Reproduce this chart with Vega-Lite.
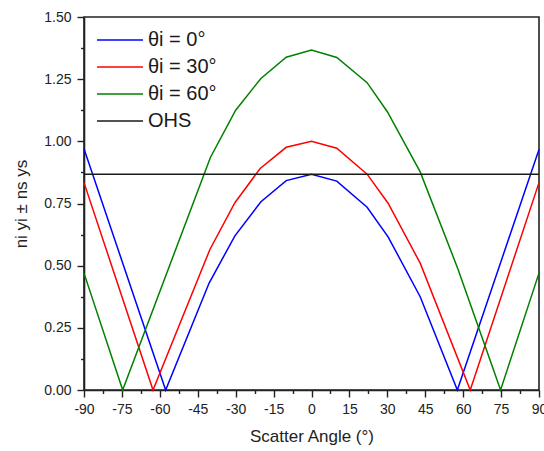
{
  "$schema": "https://vega.github.io/schema/vega-lite/v6.json",
  "width": 455,
  "height": 373,
  "autosize": {"type": "none"},
  "padding": {"left": 84, "top": 17, "right": 5, "bottom": 61},
  "background": "white",
  "config": {
    "view": {"stroke": "#222", "strokeWidth": 1.6},
    "font": "Liberation Sans",
    "axis": {
      "grid": false,
      "domainColor": "#222",
      "domainWidth": 1.6,
      "tickColor": "#222",
      "tickWidth": 1.4,
      "labelFont": "Liberation Sans",
      "labelFontSize": 14,
      "labelColor": "#222",
      "titleFont": "Liberation Sans",
      "titleFontSize": 17,
      "titleFontWeight": "normal",
      "titleColor": "#222"
    }
  },
  "data": {
    "values": [
      {"series": "θi = 0°", "angle": -90, "y": 0.97},
      {"series": "θi = 0°", "angle": -57.7, "y": 0},
      {"series": "θi = 0°", "angle": -40.5, "y": 0.43},
      {"series": "θi = 0°", "angle": -30.3, "y": 0.62},
      {"series": "θi = 0°", "angle": -20, "y": 0.757},
      {"series": "θi = 0°", "angle": -10, "y": 0.842},
      {"series": "θi = 0°", "angle": 0, "y": 0.868},
      {"series": "θi = 0°", "angle": 10, "y": 0.84},
      {"series": "θi = 0°", "angle": 22, "y": 0.735},
      {"series": "θi = 0°", "angle": 30.3, "y": 0.616},
      {"series": "θi = 0°", "angle": 43, "y": 0.375},
      {"series": "θi = 0°", "angle": 57.7, "y": 0},
      {"series": "θi = 0°", "angle": 90, "y": 0.967},
      {"series": "θi = 30°", "angle": -90, "y": 0.834},
      {"series": "θi = 30°", "angle": -62.7, "y": 0},
      {"series": "θi = 30°", "angle": -40.2, "y": 0.565},
      {"series": "θi = 30°", "angle": -30.3, "y": 0.753},
      {"series": "θi = 30°", "angle": -20.3, "y": 0.891},
      {"series": "θi = 30°", "angle": -10, "y": 0.976},
      {"series": "θi = 30°", "angle": 0, "y": 1.0},
      {"series": "θi = 30°", "angle": 10, "y": 0.972},
      {"series": "θi = 30°", "angle": 22, "y": 0.868},
      {"series": "θi = 30°", "angle": 30.3, "y": 0.751},
      {"series": "θi = 30°", "angle": 43, "y": 0.51},
      {"series": "θi = 30°", "angle": 62.8, "y": 0},
      {"series": "θi = 30°", "angle": 90, "y": 0.834},
      {"series": "θi = 60°", "angle": -90, "y": 0.47},
      {"series": "θi = 60°", "angle": -74.7, "y": 0},
      {"series": "θi = 60°", "angle": -40, "y": 0.935},
      {"series": "θi = 60°", "angle": -30, "y": 1.125},
      {"series": "θi = 60°", "angle": -20, "y": 1.253},
      {"series": "θi = 60°", "angle": -10, "y": 1.338},
      {"series": "θi = 60°", "angle": 0, "y": 1.367},
      {"series": "θi = 60°", "angle": 10, "y": 1.337},
      {"series": "θi = 60°", "angle": 22, "y": 1.236},
      {"series": "θi = 60°", "angle": 30, "y": 1.119},
      {"series": "θi = 60°", "angle": 43, "y": 0.877},
      {"series": "θi = 60°", "angle": 58, "y": 0.485},
      {"series": "θi = 60°", "angle": 74.8, "y": 0},
      {"series": "θi = 60°", "angle": 90, "y": 0.47},
      {"series": "OHS", "angle": -90, "y": 0.868},
      {"series": "OHS", "angle": 90, "y": 0.868}
    ]
  },
  "mark": {"type": "line", "strokeWidth": 1.5},
  "encoding": {
    "x": {
      "field": "angle",
      "type": "quantitative",
      "scale": {"domain": [-90, 90], "nice": false, "zero": false},
      "axis": {
        "title": "Scatter Angle (°)",
        "values": [-90, -82.5, -75, -67.5, -60, -52.5, -45, -37.5, -30, -22.5, -15, -7.5, 0, 7.5, 15, 22.5, 30, 37.5, 45, 52.5, 60, 67.5, 75, 82.5, 90],
        "labelExpr": "datum.value % 15 === 0 ? '' + datum.value : ''",
        "tickSize": {"condition": {"test": "datum.value % 15 === 0", "value": 7}, "value": 3.5},
        "labelPadding": 5,
        "labelOverlap": false,
        "labelFlush": false,
        "titlePadding": 12
      }
    },
    "y": {
      "field": "y",
      "type": "quantitative",
      "scale": {"domain": [0, 1.5], "nice": false},
      "axis": {
        "title": "ni yi ± ns ys",
        "values": [0, 0.125, 0.25, 0.375, 0.5, 0.625, 0.75, 0.875, 1, 1.125, 1.25, 1.375, 1.5],
        "labelExpr": "datum.value % 0.25 === 0 ? format(datum.value, '.2f') : ''",
        "tickSize": {"condition": {"test": "datum.value % 0.25 === 0", "value": 7}, "value": 3.5},
        "labelPadding": 6,
        "labelOverlap": false,
        "labelFlush": false,
        "titlePadding": 13
      }
    },
    "color": {
      "field": "series",
      "type": "nominal",
      "scale": {
        "domain": ["θi = 0°", "θi = 30°", "θi = 60°", "OHS"],
        "range": ["#0000ff", "#ff0000", "#008000", "#1a1a1a"]
      },
      "legend": {
        "title": null,
        "orient": "none",
        "legendX": 26,
        "legendY": 13,
        "padding": 0,
        "symbolType": "M-4.6,0H4.6",
        "symbolSize": 100,
        "symbolStrokeWidth": 1.5,
        "labelFont": "Liberation Sans",
        "labelFontSize": 20,
        "labelColor": "#1a1a1a",
        "labelOffset": 18,
        "rowPadding": 7
      }
    }
  }
}
